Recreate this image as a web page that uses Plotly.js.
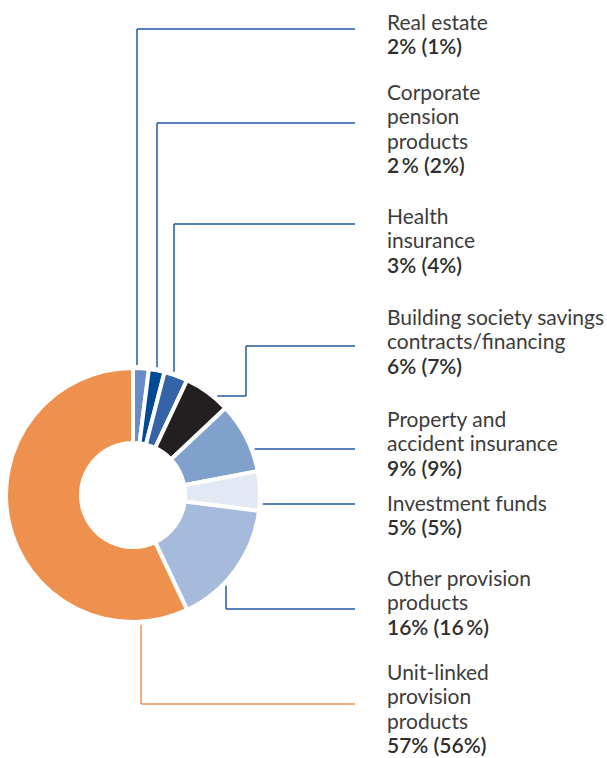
<!DOCTYPE html>
<html>
<head>
<meta charset="utf-8">
<script src="https://cdn.plot.ly/plotly-3.0.1.min.js"></script>
<style>
  html, body { margin: 0; padding: 0; background: #ffffff; }
  #chart { width: 607px; height: 758px; }
</style>
</head>
<body>
<div id="chart"></div>
<script>
// ---- data ----
const categories = [
  'Real estate',
  'Corporate pension products',
  'Health insurance',
  'Building society savings contracts/financing',
  'Property and accident insurance',
  'Investment funds',
  'Other provision products',
  'Unit-linked provision products'
];
const shareCurrent = [2, 2, 3, 6, 9, 5, 16, 57];
const sharePrevious = [1, 2, 4, 7, 9, 5, 16, 56];
const labelLines = [
  ['Real estate'],
  ['Corporate', 'pension', 'products'],
  ['Health', 'insurance'],
  ['Building society savings', 'contracts/financing'],
  ['Property and', 'accident insurance'],
  ['Investment funds'],
  ['Other provision', 'products'],
  ['Unit-linked', 'provision', 'products']
];
const valueLabels = [
  '2% (1%)',
  '2\u2009% (2%)',
  '3% (4%)',
  '6% (7%)',
  '9% (9%)',
  '5% (5%)',
  '16% (16\u2009%)',
  '57% (56%)'
];

// ---- styling / layout constants ----
const colors = ['#6a8cc4', '#004a94', '#3563a8', '#231f20', '#7fa1cb', '#e2e9f5', '#a6badb', '#ef914e'];
const lineColors = ['#1f5aa0', '#1f5aa0', '#1f5aa0', '#1f5aa0', '#1f5aa0', '#1f5aa0', '#1f5aa0', '#ef914e'];
const W = 607, H = 758;
const CX = 133, CY = 495, R = 127;      // pie centre and outer radius (px)
const RC = R + 3;                       // radius where leader lines start
const TEXT_X = 386;
const LINE_GAP = 24.3;
const firstBaselines = [30, 100, 224, 325, 427, 511, 586, 680];
// leader routing (px)
const leaders = [
  {mode: 'v', x: 137, yEnd: 29, xEnd: 355},
  {mode: 'v', x: 157, yEnd: 123, xEnd: 355},
  {mode: 'v', x: 174, yEnd: 224, xEnd: 355},
  {mode: 'hv', y: 396, xElbow: 246, yEnd: 346, xEnd: 355},
  {mode: 'h', y: 449, xEnd: 355},
  {mode: 'h', y: 504, xEnd: 355},
  {mode: 'v', x: 226, yEnd: 609, xEnd: 355},
  {mode: 'v', x: 141, yEnd: 704, xEnd: 355}
];

const px = x => x / W;
const py = y => 1 - y / H;

const shapes = [];
function seg(x0, y0, x1, y1, color) {
  shapes.push({type: 'line', xref: 'paper', yref: 'paper',
    x0: px(x0), y0: py(y0), x1: px(x1), y1: py(y1),
    line: {color: color, width: 1.5}});
}
leaders.forEach((L, i) => {
  const c = lineColors[i];
  if (L.mode === 'v') {
    const dy = Math.sqrt(RC * RC - (L.x - CX) * (L.x - CX));
    const ys = L.yEnd < CY ? CY - dy : CY + dy;
    seg(L.x, ys, L.x, L.yEnd, c);
    seg(L.x, L.yEnd, L.xEnd, L.yEnd, c);
  } else if (L.mode === 'h') {
    const dx = Math.sqrt(RC * RC - (L.y - CY) * (L.y - CY));
    seg(CX + dx, L.y, L.xEnd, L.y, c);
  } else {
    const dx = Math.sqrt(RC * RC - (L.y - CY) * (L.y - CY));
    seg(CX + dx, L.y, L.xElbow, L.y, c);
    seg(L.xElbow, L.y, L.xElbow, L.yEnd, c);
    seg(L.xElbow, L.yEnd, L.xEnd, L.yEnd, c);
  }
});

const FS = 21;
const BASE_OFFSET = 23;
const FONT = 'Lato, "Open Sans", sans-serif';
const annotations = [];
categories.forEach((cat, i) => {
  const lines = labelLines[i].concat([valueLabels[i]]);
  lines.forEach((t, k) => {
    const isValue = k === lines.length - 1;
    annotations.push({
      xref: 'paper', yref: 'paper',
      x: px(TEXT_X - 1), y: py(firstBaselines[i] + k * LINE_GAP - BASE_OFFSET),
      xanchor: 'left', yanchor: 'top', align: 'left',
      showarrow: false,
      text: t,
      font: {family: FONT, size: FS, color: isValue ? '#2e2e2e' : '#3c3c3c', weight: isValue ? 600 : 400}
    });
  });
});

const trace = {
  type: 'pie',
  labels: categories,
  values: shareCurrent,
  customdata: sharePrevious,
  sort: false,
  direction: 'clockwise',
  rotation: 0,
  hole: 0.41,
  textinfo: 'none',
  hovertemplate: '%{label}: %{value}% (%{customdata}%)<extra></extra>',
  marker: {colors: colors, line: {color: '#ffffff', width: 4}},
  domain: {x: [px(CX - R), px(CX + R)], y: [py(CY + R), py(CY - R)]},
  showlegend: false
};

const layout = {
  width: W, height: H,
  margin: {l: 0, r: 0, t: 0, b: 0, pad: 0},
  paper_bgcolor: '#ffffff',
  plot_bgcolor: '#ffffff',
  showlegend: false,
  shapes: shapes,
  annotations: annotations
};

Plotly.newPlot('chart', [trace], layout, {displayModeBar: false, staticPlot: true});
</script>
</body>
</html>
